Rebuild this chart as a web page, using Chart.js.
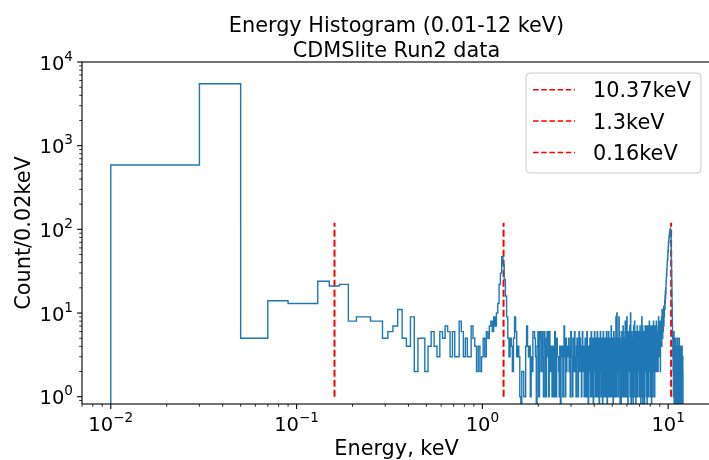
<!DOCTYPE html>
<html lang="en">
<head>
<meta charset="UTF-8">
<title>Energy Histogram (0.01-12 keV)</title>
<script src="https://cdn.jsdelivr.net/npm/chart.js"></script>
<style>
  html, body { margin: 0; padding: 0; background: #fff; overflow: hidden; }
  #wrap { width: 709px; height: 460px; overflow: hidden; }
  canvas { display: block; }
</style>
</head>
<body>
<div id="wrap"><canvas id="energyChart" width="720" height="460"></canvas></div>
<script>
// histogram bins: 0.02 keV wide, first edge at 0.01 keV
const binStart = 0.01;
const binWidth = 0.02;

// counts per bin
const countsLow = [587, 5490, 5, 14, 13, 13, 24, 21, 22, 8, 9, 9, 8, 8, 5, 6, 7, 11, 5, 4, 9, 2, 5, 5, 2, 4, 6]; // 0.01-0.55
const countsMid = [ // 0.55-1.55
  4, 3, 6, 5, 7, 6, 3, 6, 3, 3,
  8, 6, 3, 5, 3, 3, 7, 5, 4, 2,
  4, 2, 3, 5, 3, 6, 5, 7, 8, 6,
  9, 7, 10, 13, 22, 30, 47, 38, 25, 16,
  9, 5, 3, 5, 4, 2, 5, 9, 6, 3
];
const counts155 = [ // 1.55-3.55
  4, 3, 1, 0, 2, 2, 1, 1, 4, 7,
  4, 3, 4, 1, 3, 2, 6, 6, 5, 3,
  0, 4, 6, 1, 6, 5, 2, 6, 3, 1,
  6, 4, 1, 5, 6, 3, 1, 6, 2, 4,
  3, 1, 4, 2, 1, 6, 3, 1, 5, 3,
  3, 2, 1, 4, 0, 4, 3, 4, 1, 4,
  7, 3, 1, 5, 2, 4, 3, 3, 5, 2,
  4, 1, 6, 3, 3, 1, 5, 4, 2, 6,
  3, 2, 1, 4, 5, 3, 1, 4, 6, 2,
  5, 3, 4, 1, 2, 6, 3, 2, 4, 1
];
const counts355 = [ // 3.55-5.55
  3, 5, 1, 4, 2, 6, 1, 3, 0, 4,
  4, 2, 5, 1, 3, 6, 2, 1, 4, 5,
  0, 3, 2, 6, 4, 1, 5, 3, 1, 4,
  6, 2, 1, 3, 5, 0, 4, 2, 6, 3,
  1, 4, 5, 2, 0, 3, 6, 1, 4, 2,
  5, 3, 1, 4, 2, 6, 3, 0, 5, 1,
  3, 6, 2, 1, 4, 5, 2, 3, 1, 7,
  2, 4, 1, 5, 3, 0, 4, 6, 2, 3,
  1, 5, 3, 2, 9, 1, 4, 10, 3, 2,
  5, 1, 4, 3, 9, 2, 6, 1, 0, 4
];
const counts555 = [ // 5.55-7.55
  3, 0, 5, 2, 6, 1, 4, 3, 7, 2,
  4, 1, 5, 3, 2, 6, 8, 1, 3, 5,
  2, 4, 9, 1, 5, 3, 0, 6, 2, 4,
  3, 5, 2, 7, 1, 4, 10, 3, 0, 5,
  1, 6, 3, 4, 2, 5, 0, 3, 7, 2,
  4, 2, 8, 1, 5, 3, 4, 0, 6, 1,
  5, 3, 2, 7, 4, 1, 6, 3, 2, 5,
  2, 6, 4, 1, 3, 7, 2, 5, 0, 4,
  6, 1, 3, 9, 2, 4, 7, 0, 1, 6,
  3, 5, 2, 6, 4, 0, 5, 3, 7, 2
];
const counts755 = [ // 7.55-9.55
  4, 6, 2, 5, 1, 7, 3, 0, 5, 6,
  2, 4, 7, 1, 5, 3, 6, 2, 8, 4,
  3, 5, 1, 6, 4, 2, 7, 3, 5, 0,
  6, 2, 4, 7, 3, 5, 1, 6, 4, 8,
  2, 5, 3, 6, 4, 1, 7, 5, 3, 6,
  4, 7, 2, 5, 8, 3, 6, 4, 2, 5,
  6, 3, 5, 2, 7, 4, 9, 3, 6, 5,
  4, 7, 5, 3, 8, 6, 2, 7, 5, 4,
  8, 5, 6, 9, 4, 7, 11, 6, 8, 5,
  7, 10, 6, 9, 8, 12, 7, 10, 9, 11
];
const counts955 = [ // 9.55-12.01
  12, 14, 11, 16, 13, 18, 15, 20, 17, 22,
  24, 26, 30, 28, 33, 35, 38, 41, 45, 43,
  50, 56, 53, 62, 68, 72, 70, 78, 84, 80,
  88, 92, 86, 96, 100, 97, 103, 99, 95, 90,
  82, 70, 56, 42, 32, 24, 19, 13, 9, 7,
  5, 6, 3, 4, 2, 5, 1, 4, 3, 6,
  2, 0, 4, 3, 5, 1, 3, 0, 2, 4,
  1, 3, 5, 2, 0, 4, 1, 3, 2, 0,
  4, 2, 3, 0, 5, 1, 2, 4, 0, 3,
  1, 4, 2, 0, 3, 2, 5, 1, 0, 2,
  3, 0, 2, 4, 1, 0, 3, 2, 1, 4,
  2, 0, 1, 3, 0, 2, 4, 1, 0, 2,
  1, 3, 2
];

// reference lines
const lineEnergies = [10.37, 1.3, 0.16];
const lineLabels = ['10.37keV', '1.3keV', '0.16keV'];
const lineSpan = [1, 120];

const xTickPowers = [-2, -1, 0, 1];
const yTickPowers = [0, 1, 2, 3, 4];

const counts = [].concat(countsLow, countsMid, counts155, counts355, counts555, counts755, counts955);

// empty bins sit below the axis on a log scale
const FLOOR = 0.3;
const histPoints = [{ x: binStart, y: FLOOR }, { x: binStart, y: counts[0] }];
for (let i = 1; i < counts.length; i++) {
    histPoints.push({ x: binStart + i * binWidth, y: counts[i] > 0 ? counts[i] : FLOOR });
}
const lastEdge = binStart + counts.length * binWidth;
histPoints.push({ x: lastEdge, y: FLOOR });

const FONT = '"DejaVu Sans", Verdana, sans-serif';
const BLUE = '#1f77b4';
const RED = '#ff0000';
const DASH = [7, 3];

const datasets = [{
    label: 'hist',
    data: histPoints,
    borderColor: BLUE,
    borderWidth: 1.4,
    pointRadius: 0,
    stepped: 'before', // horizontal at the previous count, then vertical
    fill: false,
    clip: 0
}];
lineEnergies.forEach((e, i) => {
    datasets.push({
        label: lineLabels[i],
        data: [{ x: e, y: lineSpan[0] }, { x: e, y: lineSpan[1] }],
        borderColor: RED,
        borderWidth: 2,
        borderDash: DASH,
        pointRadius: 0,
        fill: false,
        clip: 0
    });
});

function drawPow(ctx, exp, x, y, align) {
    const base = '10';
    const sup = exp < 0 ? '\u2212' + (-exp) : String(exp);
    ctx.font = '19.5px ' + FONT;
    const wb = ctx.measureText(base).width;
    ctx.font = '13.6px ' + FONT;
    const ws = ctx.measureText(sup).width;
    const left = align === 'center' ? x - (wb + ws) / 2 : x - (wb + ws);
    ctx.textAlign = 'left';
    ctx.textBaseline = 'alphabetic';
    ctx.font = '19.5px ' + FONT;
    ctx.fillText(base, left, y);
    ctx.font = '13.6px ' + FONT;
    ctx.fillText(sup, left + wb, y - 8.8);
}

// matplotlib-like frame, ticks, labels, titles and legend
const mplLook = {
    id: 'mplLook',
    afterDraw(chart) {
        const ctx = chart.ctx;
        const a = chart.chartArea;
        const xs = chart.scales.x;
        const ys = chart.scales.y;
        ctx.save();
        ctx.fillStyle = '#000';
        ctx.strokeStyle = '#000';

        // spines
        ctx.lineWidth = 1.1;
        ctx.strokeRect(a.left, a.top, a.right - a.left, a.bottom - a.top);

        // ticks (major at decades, minor at 2..9)
        for (let d = -3; d <= 4; d++) {
            for (let m = 1; m <= 9; m++) {
                const v = m * Math.pow(10, d);
                const len = m === 1 ? 4.9 : 2.8;
                ctx.lineWidth = m === 1 ? 1.1 : 0.8;
                if (v >= xs.min && v <= xs.max) {
                    const px = xs.getPixelForValue(v);
                    ctx.beginPath();
                    ctx.moveTo(px, a.bottom);
                    ctx.lineTo(px, a.bottom + len);
                    ctx.stroke();
                }
                if (v >= ys.min && v <= ys.max) {
                    const py = ys.getPixelForValue(v);
                    ctx.beginPath();
                    ctx.moveTo(a.left, py);
                    ctx.lineTo(a.left - len, py);
                    ctx.stroke();
                }
            }
        }

        // tick labels
        xTickPowers.forEach(p => {
            drawPow(ctx, p, xs.getPixelForValue(Math.pow(10, p)), 431, 'center');
        });
        yTickPowers.forEach(p => {
            drawPow(ctx, p, 73, ys.getPixelForValue(Math.pow(10, p)) + 7.5, 'right');
        });

        // titles
        const cx = (a.left + a.right) / 2;
        ctx.font = '20.8px ' + FONT;
        ctx.textAlign = 'center';
        ctx.textBaseline = 'alphabetic';
        ctx.fillText('Energy Histogram (0.01-12 keV)', cx, 31.5);
        ctx.fillText('CDMSlite Run2 data', cx, 56.5);
        ctx.fillText('Energy, keV', cx, 455);
        ctx.save();
        ctx.translate(30, (a.top + a.bottom) / 2);
        ctx.rotate(-Math.PI / 2);
        ctx.fillText('Count/0.02keV', 0, 0);
        ctx.restore();

        // legend box
        const bx = 526, by = 73, bw = 175, bh = 100, r = 4;
        ctx.beginPath();
        ctx.moveTo(bx + r, by);
        ctx.lineTo(bx + bw - r, by);
        ctx.arcTo(bx + bw, by, bx + bw, by + r, r);
        ctx.lineTo(bx + bw, by + bh - r);
        ctx.arcTo(bx + bw, by + bh, bx + bw - r, by + bh, r);
        ctx.lineTo(bx + r, by + bh);
        ctx.arcTo(bx, by + bh, bx, by + bh - r, r);
        ctx.lineTo(bx, by + r);
        ctx.arcTo(bx, by, bx + r, by, r);
        ctx.closePath();
        ctx.fillStyle = 'rgba(255,255,255,0.8)';
        ctx.fill();
        ctx.strokeStyle = '#cccccc';
        ctx.lineWidth = 1;
        ctx.stroke();

        chart.data.datasets.slice(1).forEach((ds, i) => {
            const yb = 97.3 + i * 31.3;
            ctx.strokeStyle = ds.borderColor;
            ctx.lineWidth = 1.5;
            ctx.setLineDash([5.6, 2.6]);
            ctx.beginPath();
            ctx.moveTo(533, yb - 7.5);
            ctx.lineTo(575, yb - 7.5);
            ctx.stroke();
            ctx.setLineDash([]);
            ctx.fillStyle = '#000';
            ctx.font = '20.8px ' + FONT;
            ctx.textAlign = 'left';
            ctx.fillText(ds.label, 593, yb);
        });
        ctx.restore();
    }
};

new Chart(document.getElementById('energyChart').getContext('2d'), {
    type: 'line',
    data: { datasets: datasets },
    options: {
        responsive: false,
        animation: false,
        devicePixelRatio: 1,
        events: [],
        layout: { padding: { top: 62, right: 9, left: 0, bottom: 0 } },
        plugins: {
            legend: { display: false },
            title: { display: false },
            tooltip: { enabled: false }
        },
        scales: {
            x: {
                type: 'logarithmic',
                min: 0.0070,
                max: 17.0,
                ticks: { display: false },
                grid: { display: false },
                border: { display: false },
                afterFit: s => { s.height = 56; }
            },
            y: {
                type: 'logarithmic',
                min: 0.818,
                max: 10000,
                ticks: { display: false },
                grid: { display: false },
                border: { display: false },
                afterFit: s => { s.width = 82; }
            }
        }
    },
    plugins: [mplLook]
});
</script>
</body>
</html>
